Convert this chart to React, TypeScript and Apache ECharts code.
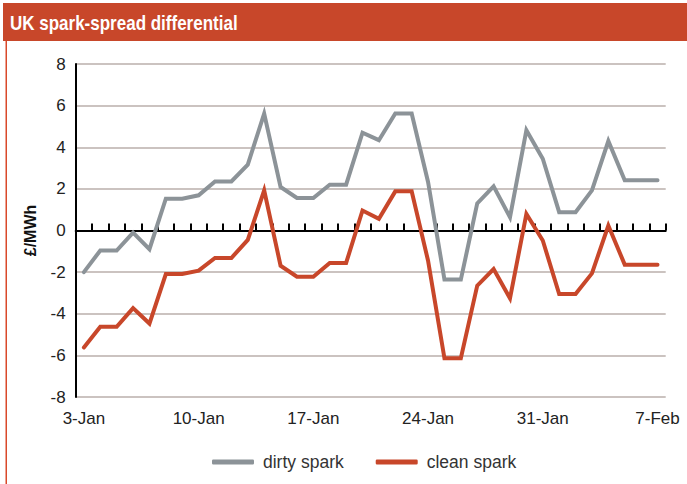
import React, { useEffect, useRef } from "react";
import * as echarts from "echarts";

const categories: string[] = [
  "3-Jan", "4-Jan", "5-Jan", "6-Jan", "7-Jan", "8-Jan", "9-Jan",
  "10-Jan", "11-Jan", "12-Jan", "13-Jan", "14-Jan", "15-Jan", "16-Jan",
  "17-Jan", "18-Jan", "19-Jan", "20-Jan", "21-Jan", "22-Jan", "23-Jan",
  "24-Jan", "25-Jan", "26-Jan", "27-Jan", "28-Jan", "29-Jan", "30-Jan",
  "31-Jan", "1-Feb", "2-Feb", "3-Feb", "4-Feb", "5-Feb", "6-Feb", "7-Feb",
];

const dirtySpark: number[] = [
  -2.0, -0.96, -0.96, -0.1, -0.9, 1.53, 1.53, 1.69, 2.36, 2.36, 3.16, 5.62,
  2.09, 1.56, 1.56, 2.2, 2.2, 4.7, 4.34, 5.62, 5.62, 2.33, -2.36, -2.36,
  1.3, 2.12, 0.64, 4.82, 3.45, 0.88, 0.88, 1.93, 4.3, 2.41, 2.41, 2.41,
];

const cleanSpark: number[] = [
  -5.62, -4.63, -4.63, -3.73, -4.47, -2.09, -2.09, -1.93, -1.32, -1.32, -0.45, 1.93,
  -1.69, -2.22, -2.22, -1.56, -1.56, 0.96, 0.56, 1.88, 1.88, -1.45, -6.14, -6.14,
  -2.65, -1.85, -3.26, 0.8, -0.48, -3.05, -3.05, -2.06, 0.24, -1.64, -1.64, -1.64,
];

const seriesNames: string[] = ["dirty spark", "clean spark"];
const titleText = "UK spark-spread differential";
const yAxisName = "£/MWh";

const FONT = "'Liberation Sans', Arial, sans-serif";
const ORANGE = "#c8472a";
const GREY = "#8c9398";

export default function App() {
  const ref = useRef<HTMLDivElement>(null);
  useEffect(() => {
    document.body.style.margin = "0";
    const chart = echarts.init(ref.current!, undefined, { renderer: "svg" });
    chart.setOption({
      animation: false,
      backgroundColor: "#ffffff",
      textStyle: { fontFamily: FONT },
      graphic: [
        { type: "rect", shape: { x: 3, y: 3, width: 684, height: 38 }, style: { fill: ORANGE } },
        { type: "rect", shape: { x: 5.5, y: 41, width: 1.5, height: 443 }, style: { fill: "#d9492a" } },
        {
          type: "text",
          x: 10,
          y: 23,
          scaleX: 0.81,
          style: {
            text: titleText,
            fill: "#ffffff",
            font: `bold 21px ${FONT}`,
            verticalAlign: "middle",
          },
        },
      ],
      grid: { left: 75.7, right: 21.3, top: 64, bottom: 87, containLabel: false },
      legend: {
        left: 207,
        top: 448,
        icon: "roundRect",
        itemWidth: 42,
        itemHeight: 5,
        itemGap: 32,
        textStyle: { fontSize: 17.5, color: "#333", fontFamily: FONT, padding: [0, 0, 0, 4] },
        data: seriesNames,
      },
      xAxis: [
        {
          type: "category",
          data: categories,
          position: "bottom",
          boundaryGap: true,
          axisLine: { show: false, onZero: false },
          axisTick: { show: false },
          axisLabel: { interval: 6, fontSize: 17, color: "#222", margin: 13, fontFamily: FONT },
          splitLine: { show: false },
        },
        {
          type: "category",
          data: categories,
          position: "bottom",
          boundaryGap: true,
          axisLine: { show: true, onZero: true, lineStyle: { color: "#000", width: 2 } },
          axisTick: { show: true, inside: true, interval: 0, length: 7, lineStyle: { color: "#000", width: 2 } },
          axisLabel: { show: false },
          splitLine: { show: false },
        },
      ],
      yAxis: {
        type: "value",
        min: -8,
        max: 8,
        interval: 2,
        name: yAxisName,
        nameLocation: "middle",
        nameGap: 37,
        nameRotate: 90,
        nameTextStyle: { fontSize: 16, fontWeight: "bold", color: "#111", fontFamily: FONT },
        axisLine: { show: true, lineStyle: { color: "#000", width: 2 } },
        axisTick: { show: false },
        axisLabel: { fontSize: 17, color: "#222", margin: 10, fontFamily: FONT },
        splitLine: { show: true, lineStyle: { color: "#cbc3c0", width: 2 } },
      },
      series: [
        {
          name: seriesNames[0],
          type: "line",
          data: dirtySpark,
          xAxisIndex: 0,
          symbol: "none",
          color: GREY,
          lineStyle: { color: GREY, width: 4, cap: "round", join: "miter" },
          z: 3,
        },
        {
          name: seriesNames[1],
          type: "line",
          data: cleanSpark,
          xAxisIndex: 0,
          symbol: "none",
          color: ORANGE,
          lineStyle: { color: ORANGE, width: 4, cap: "round", join: "miter" },
          z: 4,
        },
      ],
    });
    return () => chart.dispose();
  }, []);
  return <div ref={ref} style={{ width: 687, height: 484 }} />;
}
